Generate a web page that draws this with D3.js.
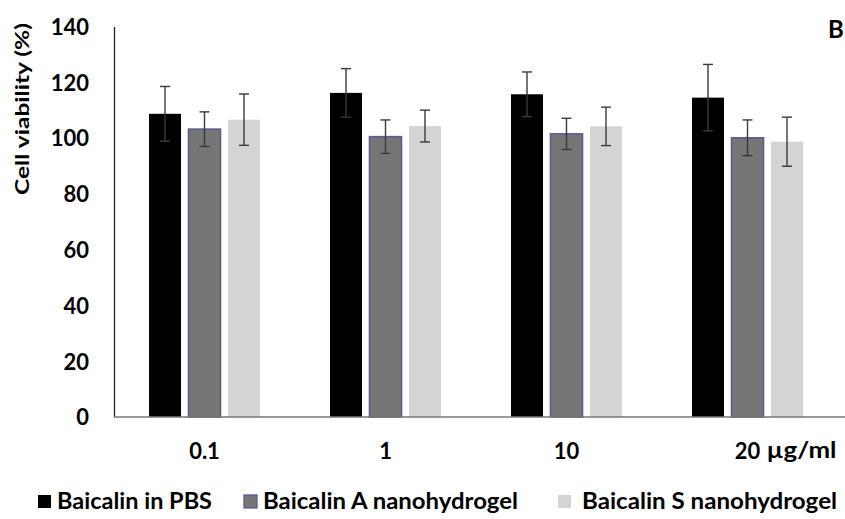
<!DOCTYPE html>
<html>
<head>
<meta charset="utf-8">
<script src="https://cdn.jsdelivr.net/npm/d3@7"></script>
<style>
  html, body { margin: 0; padding: 0; background: #fff; }
  svg { display: block; }
  text { font-family: Lato, "Open Sans", sans-serif; font-weight: bold; fill: #000; }
</style>
</head>
<body>
<svg id="chart" width="845" height="519"></svg>
<script>
// ---- data ----
const categories = ["0.1", "1", "10", "20"];
const seriesNames = ["Baicalin in PBS", "Baicalin A nanohydrogel", "Baicalin S nanohydrogel"];
const pbsValues = [108.7, 116.2, 115.7, 114.5];
const pbsErrors = [9.8, 8.7, 8.0, 11.9];
const aValues = [103.2, 100.5, 101.5, 100.1];
const aErrors = [6.2, 6.0, 5.6, 6.4];
const sValues = [106.6, 104.3, 104.2, 98.7];
const sErrors = [9.2, 5.7, 6.9, 8.8];
const yTicks = [0, 20, 40, 60, 80, 100, 120, 140];
const unitLabel = "\u00b5g/ml";
const yTitle = "Cell viability (%)";
const panelLabel = "B";

(function () {
const seriesValues = [pbsValues, aValues, sValues];
const seriesErrors = [pbsErrors, aErrors, sErrors];
const fills = ["#000000", "#767676", "#d4d4d4"];
const strokes = ["none", "#5c5c8e", "none"];

const svg = d3.select("#chart");
const W = 845;
const mLeft = 114, mRight = 838, mTop = 26.5, mBottom = 417;

const x = d3.scaleBand().domain(categories).range([mLeft, mRight]).padding(0);
const xs = d3.scaleBand().domain(d3.range(3)).range([-55.5, 55.5]).paddingInner(0.19);
const y = d3.scaleLinear().domain([0, 140]).range([mBottom, mTop]);

const rows = [];
categories.forEach((c, i) => {
  seriesValues.forEach((vals, s) => {
    rows.push({ c, s, v: vals[i], e: seriesErrors[s][i] });
  });
});

const g = svg.append("g");
g.selectAll("rect.bar").data(rows).join("rect")
  .attr("class", "bar")
  .attr("x", d => x(d.c) + x.bandwidth() / 2 + xs(d.s))
  .attr("y", d => y(d.v))
  .attr("width", xs.bandwidth())
  .attr("height", d => y(0) - y(d.v))
  .attr("fill", d => fills[d.s])
  .attr("stroke", d => strokes[d.s])
  .attr("stroke-width", 1.6);

const eg = g.selectAll("g.err").data(rows).join("g").attr("class", "err")
  .attr("transform", d => `translate(${x(d.c) + x.bandwidth() / 2 + xs(d.s) + xs.bandwidth() / 2},0)`);
eg.append("line").attr("x1", 0).attr("x2", 0)
  .attr("y1", d => y(d.v + d.e)).attr("y2", d => y(d.v - d.e))
  .attr("stroke", "#3a3a3a").attr("stroke-width", 1.4);
eg.append("line").attr("x1", -5).attr("x2", 5)
  .attr("y1", d => y(d.v + d.e)).attr("y2", d => y(d.v + d.e))
  .attr("stroke", "#3a3a3a").attr("stroke-width", 1.4);
eg.append("line").attr("x1", -5).attr("x2", 5)
  .attr("y1", d => y(d.v - d.e)).attr("y2", d => y(d.v - d.e))
  .attr("stroke", "#3a3a3a").attr("stroke-width", 1.4);

const yAxis = svg.append("g").attr("transform", `translate(${mLeft},0)`)
  .call(d3.axisLeft(y).tickValues(yTicks).tickSize(0).tickSizeOuter(0).tickPadding(25));
yAxis.select(".domain").attr("stroke", "#222").attr("stroke-width", 1.3);
yAxis.selectAll("text").style("font-size", "22px").attr("dy", "0.36em").attr("fill", "#000");

const xAxis = svg.append("g").attr("transform", `translate(0,${mBottom})`)
  .call(d3.axisBottom(x).tickSize(0).tickSizeOuter(0).tickPadding(26));
xAxis.select(".domain").remove();
xAxis.selectAll("text").style("font-size", "22px").attr("fill", "#000");
svg.append("line").attr("x1", mLeft).attr("x2", W).attr("y1", mBottom).attr("y2", mBottom)
  .attr("stroke", "#777").attr("stroke-width", 1.3);

svg.append("text").attr("x", x("20") + x.bandwidth() / 2 + 19).attr("y", 458)
  .style("font-size", "22px")
  .attr("textLength", 70).attr("lengthAdjust", "spacingAndGlyphs")
  .text(unitLabel);

svg.append("text")
  .attr("transform", `translate(29,109) rotate(-90)`)
  .attr("text-anchor", "middle")
  .style("font-size", "19.5px")
  .attr("textLength", 172).attr("lengthAdjust", "spacingAndGlyphs")
  .text(yTitle);

svg.append("text").attr("x", 828).attr("y", 38).style("font-size", "24px").text(panelLabel);

const legX = [37, 243, 557];
const legTextX = [57, 263, 582];
const legW = [155, 255, 255];
const lg = svg.append("g");
seriesNames.forEach((n, i) => {
  lg.append("rect").attr("x", legX[i] + 1).attr("y", 495).attr("width", 13).attr("height", 13)
    .attr("fill", fills[i]).attr("stroke", strokes[i]).attr("stroke-width", 1.3);
  lg.append("text").attr("x", legTextX[i]).attr("y", 509)
    .style("font-size", "22px")
    .attr("textLength", legW[i]).attr("lengthAdjust", "spacingAndGlyphs")
    .text(n);
});
})();
</script>
</body>
</html>
